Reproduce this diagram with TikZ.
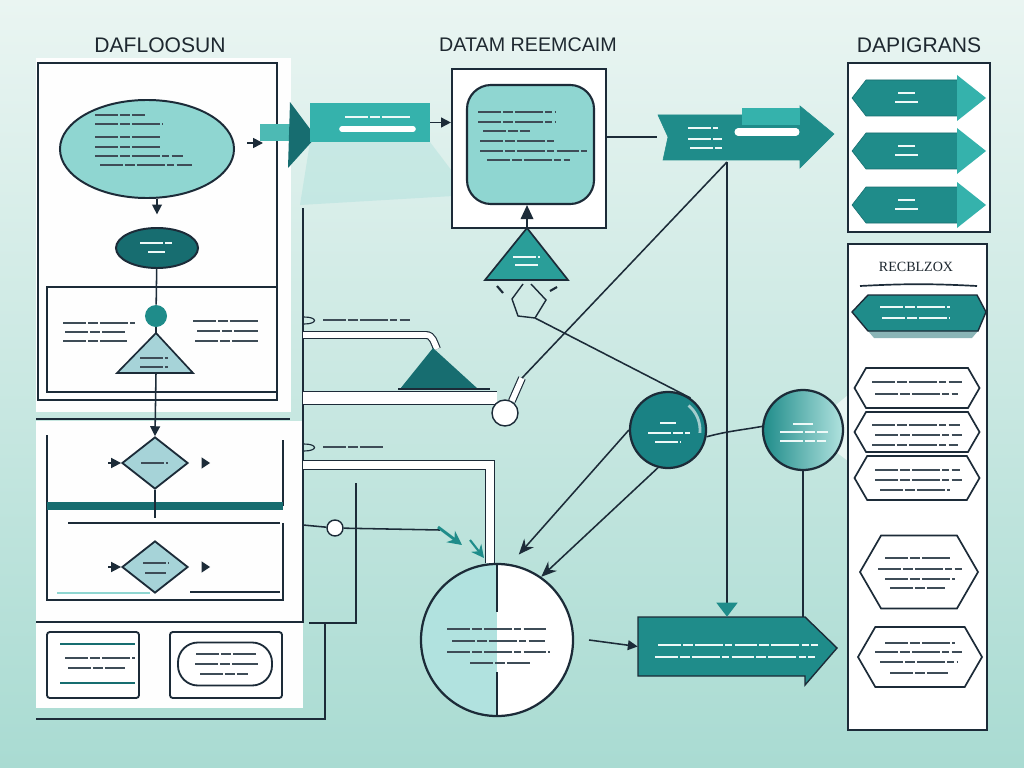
\documentclass[tikz,border=0pt]{standalone}
\usepackage{fontspec}
\setmainfont{Liberation Sans}
\newfontfamily\recfont{Liberation Serif}
\usetikzlibrary{arrows.meta,shapes.geometric,shapes.symbols}

\definecolor{ink}{HTML}{1C2B38}
\definecolor{titleink}{HTML}{1E2830}
\definecolor{tealdark}{HTML}{176D70}
\definecolor{tealmid}{HTML}{1F8C8A}
\definecolor{tealcirc}{HTML}{1A8284}
\definecolor{tealbright}{HTML}{35B2AC}
\definecolor{teallight}{HTML}{8FD6D1}
\definecolor{tealpale}{HTML}{A6D3D8}
\definecolor{tealtri}{HTML}{2A9E99}
\definecolor{tealstem}{HTML}{4DBAB4}
\definecolor{scrib}{HTML}{3E4C57}
\definecolor{bgtop}{HTML}{EAF5F2}
\definecolor{bgbot}{HTML}{A9DBD2}

\begin{document}
\begin{tikzpicture}[
  x=0.025cm, y=-0.025cm,
  >={Triangle[length=7pt,width=7pt]},
  every node/.style={inner sep=0pt},
  link/.style={draw=ink,line width=1.1pt},
  panel node/.style={draw=ink,line width=1.3pt,fill=white},
  scribble line/.style={draw=scrib,line width=1.5pt,dash pattern=on 16pt off 1.6pt on 7pt off 1.6pt on 20pt off 1.6pt on 5pt off 1.6pt},
  light line/.style={scribble line,draw=white!85!teallight},
  pipe line/.style={draw=ink,line width=0.8pt,double=white,double distance=5pt},
  headline/.style={font=\fontsize{15}{15}\selectfont,text=titleink},
  hex node/.style={signal,signal to=west and east,signal pointer angle=120,draw=ink,line width=1.2pt,fill=white},
  ]
  \fill[top color=bgtop,bottom color=bgbot] (0,0) rectangle (1024,768);
  \useasboundingbox (0,0) rectangle (1024,768);

  \node[headline] (ttl1) at (160,45) {DAFLOOSUN};
  \node[headline,font=\fontsize{14}{14}\selectfont] (ttl2) at (528,45) {DATAM REEMCAIM};
  \node[headline] (ttl3) at (919,45) {DAPIGRANS};

  \fill[white!96!bgtop] (36,58) rectangle (291,412);
  \fill[white!96!bgtop] (36,421) rectangle (303,708);
  \draw[link] (38,63) rectangle (277,400);
  \draw[link] (47,287) rectangle (277,392);
  \draw[link] (36,419) -- (290,419);
  \draw[link] (47,435) -- (47,600) -- (283,600) -- (283,523);
  \draw[link] (283,440) -- (283,506);
  \draw[tealdark,line width=5pt] (47,506) -- (283,506);
  \draw[ink,line width=0.8pt] (68,523) -- (280,523);
  \draw[teallight,line width=1pt] (57,593) -- (150,593);
  \draw[ink,line width=1pt] (190,592) -- (280,592);
  \draw[link] (36,622) -- (303,622);
  \draw[link] (36,719) -| (325,623);
  \draw[link] (309,623) -- (356,623) -- (356,483);
  \draw[link] (303,208) -- (303,623);

  \fill[teallight,opacity=0.28] (310,142) -- (430,142) -- (470,195) -- (300,205) -- cycle;
  \fill[white,opacity=0.6] (836,405) -- (860,385) -- (860,470) -- (836,452) -- cycle;

  \node[ellipse,draw=ink,line width=1.4pt,fill=teallight,minimum width=4.35cm,minimum height=2.45cm] (n11) at (147,149) {};
  \node[ellipse,draw=ink,line width=1.4pt,fill=tealdark,minimum width=2.05cm,minimum height=1cm] (n12) at (157,248) {};
  \node[circle,fill=tealmid,minimum size=0.55cm] (n13) at (156,316) {};
  \coordinate (t1) at (156,333);
  \filldraw[fill=tealpale,draw=ink,line width=1.2pt] (t1) -- (193,373) -- (117,373) -- cycle;
  \node[diamond,draw=ink,line width=1.3pt,fill=tealpale,minimum width=1.65cm,minimum height=1.3cm] (n14) at (155,463) {};
  \node[diamond,draw=ink,line width=1.3pt,fill=tealpale,minimum width=1.65cm,minimum height=1.3cm] (n15) at (155,567) {};
  \node[panel node,rounded corners=2pt,minimum width=2.3cm,minimum height=1.65cm] (n16) at (93,665) {};
  \draw[tealdark,line width=2pt] (60,644) -- (135,644) (60,683) -- (135,683);
  \node[panel node,rounded corners=2pt,minimum width=2.8cm,minimum height=1.65cm] (n17) at (226,665) {};
  \node[draw=ink,line width=1.3pt,rounded corners=0.5cm,minimum width=2.35cm,minimum height=1.075cm] (n18) at (225,664) {};

  \draw[link,->,shorten >=9pt] (n11.south -| n12.north) -- (n12.north);
  \draw[link] (n12) -- (n13);
  \draw[link] (n13) -- (t1);
  \draw[link,->] (156,373) -- (n14.north);
  \draw[link,line width=2pt] (n14.south) -- (155,518);
  \foreach \d in {n14,n15} {
    \draw[ink,line width=1.2pt,->] ([xshift=-9pt]\d.west) -- (\d.west);
    \fill[ink] ([xshift=9pt,yshift=4pt]\d.east) -- ([xshift=15pt]\d.east) -- ([xshift=9pt,yshift=-4pt]\d.east) -- cycle;
  }

  \fill[tealstem] (260,124) rectangle (293,141);
  \fill[tealdark] (290,102) -- (316,137) -- (288,168) -- cycle;
  \draw[ink,line width=1.2pt,->] (247,143) -- (263,143);
  \node[fill=tealbright,minimum width=3cm,minimum height=0.975cm] (n21) at (370,122.5) {};
  \draw[white,line width=4pt,line cap=round] (342,129) -- (413,129);
  \node[panel node,line width=1.5pt,minimum width=3.85cm,minimum height=3.975cm] (n22) at (529,148.5) {};
  \node[draw=ink,line width=1.5pt,fill=teallight,rounded corners=0.6cm,minimum width=3.175cm,minimum height=2.975cm] (n23) at (530.5,144.5) {};
  \draw[link,->] (n21.east) -- (n21.east -| n22.west);
  \coordinate (t2) at (527,228);
  \filldraw[fill=tealtri,draw=ink,line width=1.2pt] (t2) -- (568,280) -- (485,280) -- cycle;
  \draw[link,-{Triangle[length=10pt,width=9pt]}] (t2) -- (n23.south -| t2);
  \draw[link,line width=1pt] (523,284) -- (512,299) -- (518,316) -- (535,318) -- (546,300) -- (531,284);
  \coordinate (p1) at (535,318);
  \draw[ink,line width=1.5pt] (497,286) -- (503,293) (550,291) -- (557,287);

  \filldraw[fill=tealmid,draw=tealmid] (658,115) -- (800,115) -- (800,106) -- (834,134) -- (800,168) -- (800,160) -- (663,160) -- (668,137) -- cycle;
  \fill[tealbright] (742,108) rectangle (800,125);
  \draw[white,line width=5pt,line cap=round] (738,132) -- (796,132);
  \node[minimum width=4.375cm,minimum height=1.3cm] (n31) at (745,137) {};
  \coordinate (j1) at (727,162);
  \draw[link] (n22.east |- n31.west) -- (n31.west);

  \draw[pipe line,double distance=4pt] (303,335) -- (426,335) to[out=0,in=115] (437,349);
  \fill[tealdark] (433,348) -- (478,389) -- (400,389) -- cycle;
  \draw[ink,line width=1pt] (398,389) -- (490,389);
  \draw[pipe line,double distance=8pt] (303,398) -- (497,398);
  \draw[pipe line] (303,465) -| (490,563);
  \draw[ink,line width=0.8pt] (304,317) .. controls (318,317) and (318,324) .. (304,324);
  \draw[ink,line width=0.8pt] (304,444) .. controls (318,444) and (318,451) .. (304,451);
  \node[circle,draw=ink,line width=1pt,fill=white,minimum size=0.65cm] (n24) at (505,413) {};
  \coordinate (s1) at (522,378);
  \draw[pipe line,double distance=4pt] (n24.60) -- (s1);
  \draw[link] (s1) -- (j1);
  \node[circle,draw=ink,line width=1pt,fill=white,minimum size=0.4cm] (n25) at (335,528) {};
  \draw[link] (303,525) -- (n25);
  \draw[link] (n25) -- (440,530);
  \draw[tealmid,line width=2pt,-{Stealth[length=10pt,width=10pt]}] (438,527) -- (462,545);
  \draw[tealmid,line width=1.5pt,-{Stealth[length=9pt,width=9pt]}] (470,540) -- (484,558);

  \node[circle,draw=ink,line width=1.6pt,fill=white,minimum size=3.8cm,
    path picture={\fill[teallight!70!white] (path picture bounding box.north west) rectangle (path picture bounding box.south);}] (n26) at (497,640) {};
  \draw[ink,line width=1.6pt] (n26.north) -- (497,612) (497,672) -- (n26.south);
  \node[circle,draw=ink,line width=1.6pt,fill=tealcirc,minimum size=1.9cm] (n32) at (668,430) {};
  \draw[white,opacity=0.6,line width=2pt] ([shift={(50:0.8cm)}]n32.center) arc[start angle=50,end angle=-5,radius=0.8cm];
  \node[circle,draw=ink,line width=1.6pt,left color=tealmid,right color=teallight!70!white,minimum size=2cm] (n33) at (803,430) {};
  \filldraw[fill=tealmid,draw=ink,line width=1pt] (638,617) -- (805,617) -- (837,648) -- (805,685) -- (805,676) -- (638,676) -- cycle;
  \node[minimum width=4.175cm,minimum height=1.475cm] (n34) at (721.5,646.5) {};

  \draw[link] (p1) -- (n32.55);
  \draw[link] (n32.-10) to[out=15,in=190] (n33.175);
  \draw[link,-{Stealth[length=11pt,width=9pt]},shorten >=9pt] (n32.west) -- (n26.80);
  \draw[link,-{Stealth[length=11pt,width=9pt]}] (n32.255) -- (n26.55);
  \draw[link,-{Triangle[length=10pt,width=15pt,color=tealmid,fill=tealmid]}] (j1) -- (j1 |- n34.north);
  \draw[link] (n33.south) -- (n33.south |- n34.north);
  \draw[link,->] ([xshift=10.6pt]n26.east) -- (n34.west);

  \node[panel node,minimum width=3.55cm,minimum height=4.225cm] (n41) at (919,147.5) {};
  \foreach \y in {98,151,205} {
    \filldraw[fill=tealmid,draw=tealdark] (852,\y) -- (866,\y-18) -- (958,\y-18) -- (958,\y+18) -- (866,\y+18) -- cycle;
    \fill[tealbright] (957,\y-23) -- (986,\y) -- (957,\y+23) -- cycle;
  }
  \node[panel node,minimum width=3.475cm,minimum height=12.15cm] (n42) at (917.5,487) {};
  \node[font=\recfont\fontsize{10}{10}\selectfont,text=titleink] (ttl4) at (916,267) {RECBLZOX};
  \draw[ink,line width=1.2pt] (860,286) to[bend left=3] (977,286);
  \fill[tealdark,opacity=0.5] (868,331) -- (978,331) -- (972,338) -- (874,338) -- cycle;
  \filldraw[fill=tealmid,draw=ink,line width=1pt] (852,312) -- (868,295) -- (977,295) -- (986,312) -- (978,331) -- (868,331) -- cycle;
  \node[hex node,minimum width=3.125cm,minimum height=1cm] (n43) at (917,388) {};
  \node[hex node,minimum width=3.125cm,minimum height=1cm] (n44) at (917,432) {};
  \node[hex node,minimum width=3.125cm,minimum height=1.1cm] (n45) at (917,478) {};
  \node[hex node,minimum width=2.95cm,minimum height=1.825cm] (n46) at (919,572) {};
  \node[hex node,minimum width=3.1cm,minimum height=1.5cm] (n47) at (920,657) {};

  \foreach \y/\a/\b in {115/95/145, 124/95/163, 137/95/162, 147/95/162, 156/95/183, 165/100/192,
    323/63/135, 332/65/125, 341/63/127, 321/193/260, 331/197/258, 341/195/258,
    358/140/168, 367/140/168, 463/141/168, 563/143/168, 573/145/166,
    658/65/135, 668/68/125, 654/196/256, 664/195/258, 674/200/248,
    112/478/555, 122/478/555, 131/483/530, 141/480/555, 151/480/587, 160/487/570,
    320/323/410, 447/323/383,
    629/447/548, 641/452/545, 652/447/550, 663/470/530,
    382/872/962, 394/875/958, 425/872/960, 435/875/962, 445/872/958,
    470/875/960, 480/875/962, 490/880/950,
    558/885/950, 569/878/962, 579/885/955, 588/890/945,
    643/885/955, 652/875/962, 662/880/958, 673/890/948}
    \draw[scribble line] (\a,\y) -- (\b,\y);
  \foreach \y/\a/\b in {243/140/172, 252/148/165, 257/513/540, 265/515/538, 117/345/410,
    128/688/718, 139/688/722, 148/690/722, 423/660/676, 433/648/690, 442/655/680,
    424/793/813, 432/780/828, 441/780/826, 645/658/818, 657/655/815, 307/880/950, 318/882/950,
    93/898/915, 102/895/918, 146/898/915, 155/895/918, 200/898/915, 209/895/918}
    \draw[light line] (\a,\y) -- (\b,\y);
\end{tikzpicture}
\end{document}
